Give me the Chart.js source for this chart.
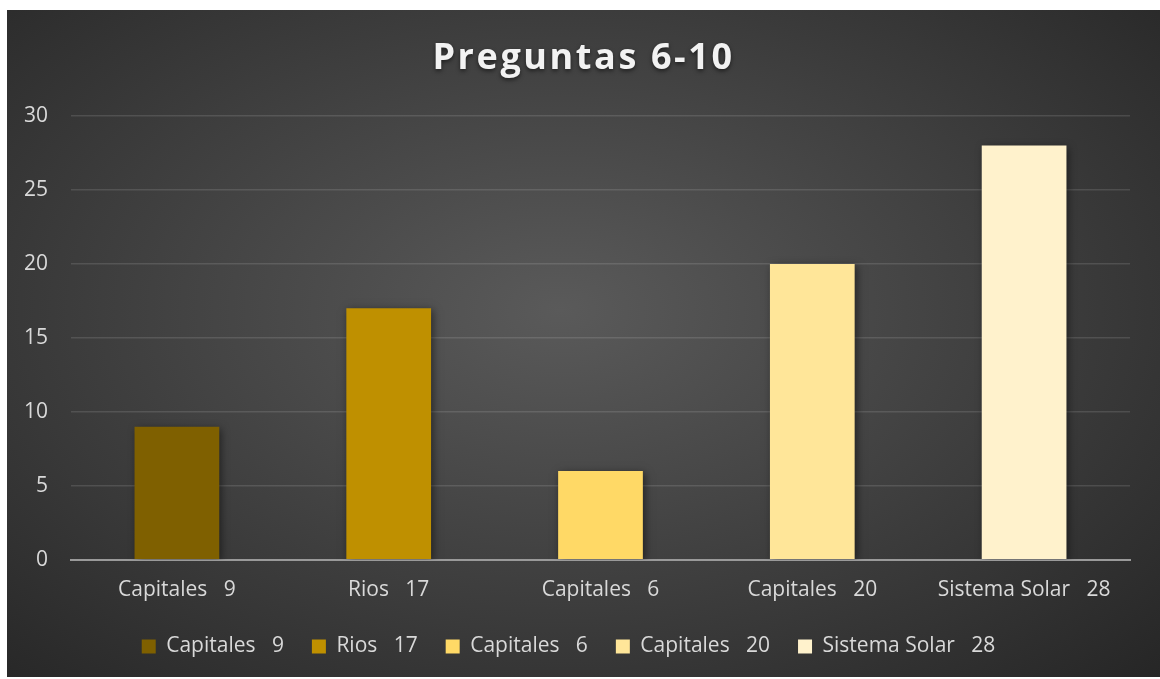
<!DOCTYPE html>
<html>
<head>
<meta charset="utf-8">
<script src="https://cdn.jsdelivr.net/npm/chart.js@4.4.1/dist/chart.umd.min.js"></script>
<style>
  html, body { margin: 0; padding: 0; background: #ffffff; }
  #marco {
    position: absolute; left: 7px; top: 10px; width: 1153px; height: 667px;
    background: radial-gradient(ellipse farthest-corner at 48% 45%, #5a5a5a 0%, #484848 35%, #262626 100%);
  }
  #grafico { display: block; }
</style>
</head>
<body>
<div id="marco"><canvas id="grafico" width="1153" height="667"></canvas></div>
<script>
// datos de la grafica
const titulo = 'Preguntas 6-10';
const categorias = ['Capitales   9', 'Rios   17', 'Capitales   6', 'Capitales   20', 'Sistema Solar   28'];
const valores = [9, 17, 6, 20, 28];
const colores = ['#7f6000', '#bf9000', '#ffd966', '#ffe699', '#fff2cc'];
const ejeY = { min: 0, max: 30, paso: 5 };

const colorTexto = '#d9d9d9';
const fuente = '"Open Sans", "DejaVu Sans", sans-serif';

// titulo con espaciado de letras y sombra
const tituloPlugin = {
  id: 'tituloPlugin',
  afterDraw(chart) {
    const ctx = chart.ctx;
    ctx.save();
    ctx.font = 'bold 36px ' + fuente;
    ctx.letterSpacing = '2.6px';
    ctx.fillStyle = '#f2f2f2';
    ctx.textAlign = 'center';
    ctx.textBaseline = 'alphabetic';
    ctx.shadowColor = 'rgba(0,0,0,0.55)';
    ctx.shadowBlur = 4;
    ctx.shadowOffsetY = 2;
    ctx.fillText(titulo, chart.width / 2, 59);
    ctx.restore();
  }
};

// sombra de las barras
const sombraPlugin = {
  id: 'sombraPlugin',
  beforeDatasetsDraw(chart) {
    const ctx = chart.ctx;
    ctx.save();
    ctx.shadowColor = 'rgba(0,0,0,0.5)';
    ctx.shadowBlur = 8;
    ctx.shadowOffsetX = 2;
    ctx.shadowOffsetY = 2;
  },
  afterDatasetsDraw(chart) {
    chart.ctx.restore();
  }
};

const ctx = document.getElementById('grafico').getContext('2d');
new Chart(ctx, {
  type: 'bar',
  data: {
    labels: categorias,
    datasets: [{
      label: titulo,
      data: valores,
      backgroundColor: colores,
      borderWidth: 0,
      categoryPercentage: 1,
      barPercentage: 0.4
    }]
  },
  options: {
    responsive: false,
    animation: false,
    layout: { padding: { top: 106, right: 30, left: 0, bottom: 10 } },
    scales: {
      x: {
        grid: { display: false, drawTicks: false },
        border: { display: true, color: '#9a9a9a', width: 2 },
        ticks: { color: colorTexto, font: { family: fuente, size: 21 }, padding: 18, maxRotation: 0 },
        afterFit(scale) { scale.height -= 13; }
      },
      y: {
        min: ejeY.min,
        max: ejeY.max,
        ticks: { stepSize: ejeY.paso, color: colorTexto, font: { family: fuente, size: 21 }, padding: 23 },
        grid: { color: 'rgba(255,255,255,0.12)', lineWidth: 1.5, drawTicks: false },
        border: { display: false },
        afterFit(scale) { scale.width = 64; }
      }
    },
    plugins: {
      title: { display: false },
      tooltip: { enabled: false },
      legend: {
        position: 'bottom',
        labels: {
          color: colorTexto,
          font: { family: fuente, size: 21 },
          boxWidth: 14,
          boxHeight: 14,
          padding: 28,
          generateLabels: () => categorias.map((c, i) => ({
            text: c,
            fillStyle: colores[i],
            strokeStyle: colores[i],
            lineWidth: 0,
            hidden: false,
            index: i,
            fontColor: colorTexto
          }))
        }
      }
    }
  },
  plugins: [sombraPlugin, tituloPlugin]
});
</script>
</body>
</html>
